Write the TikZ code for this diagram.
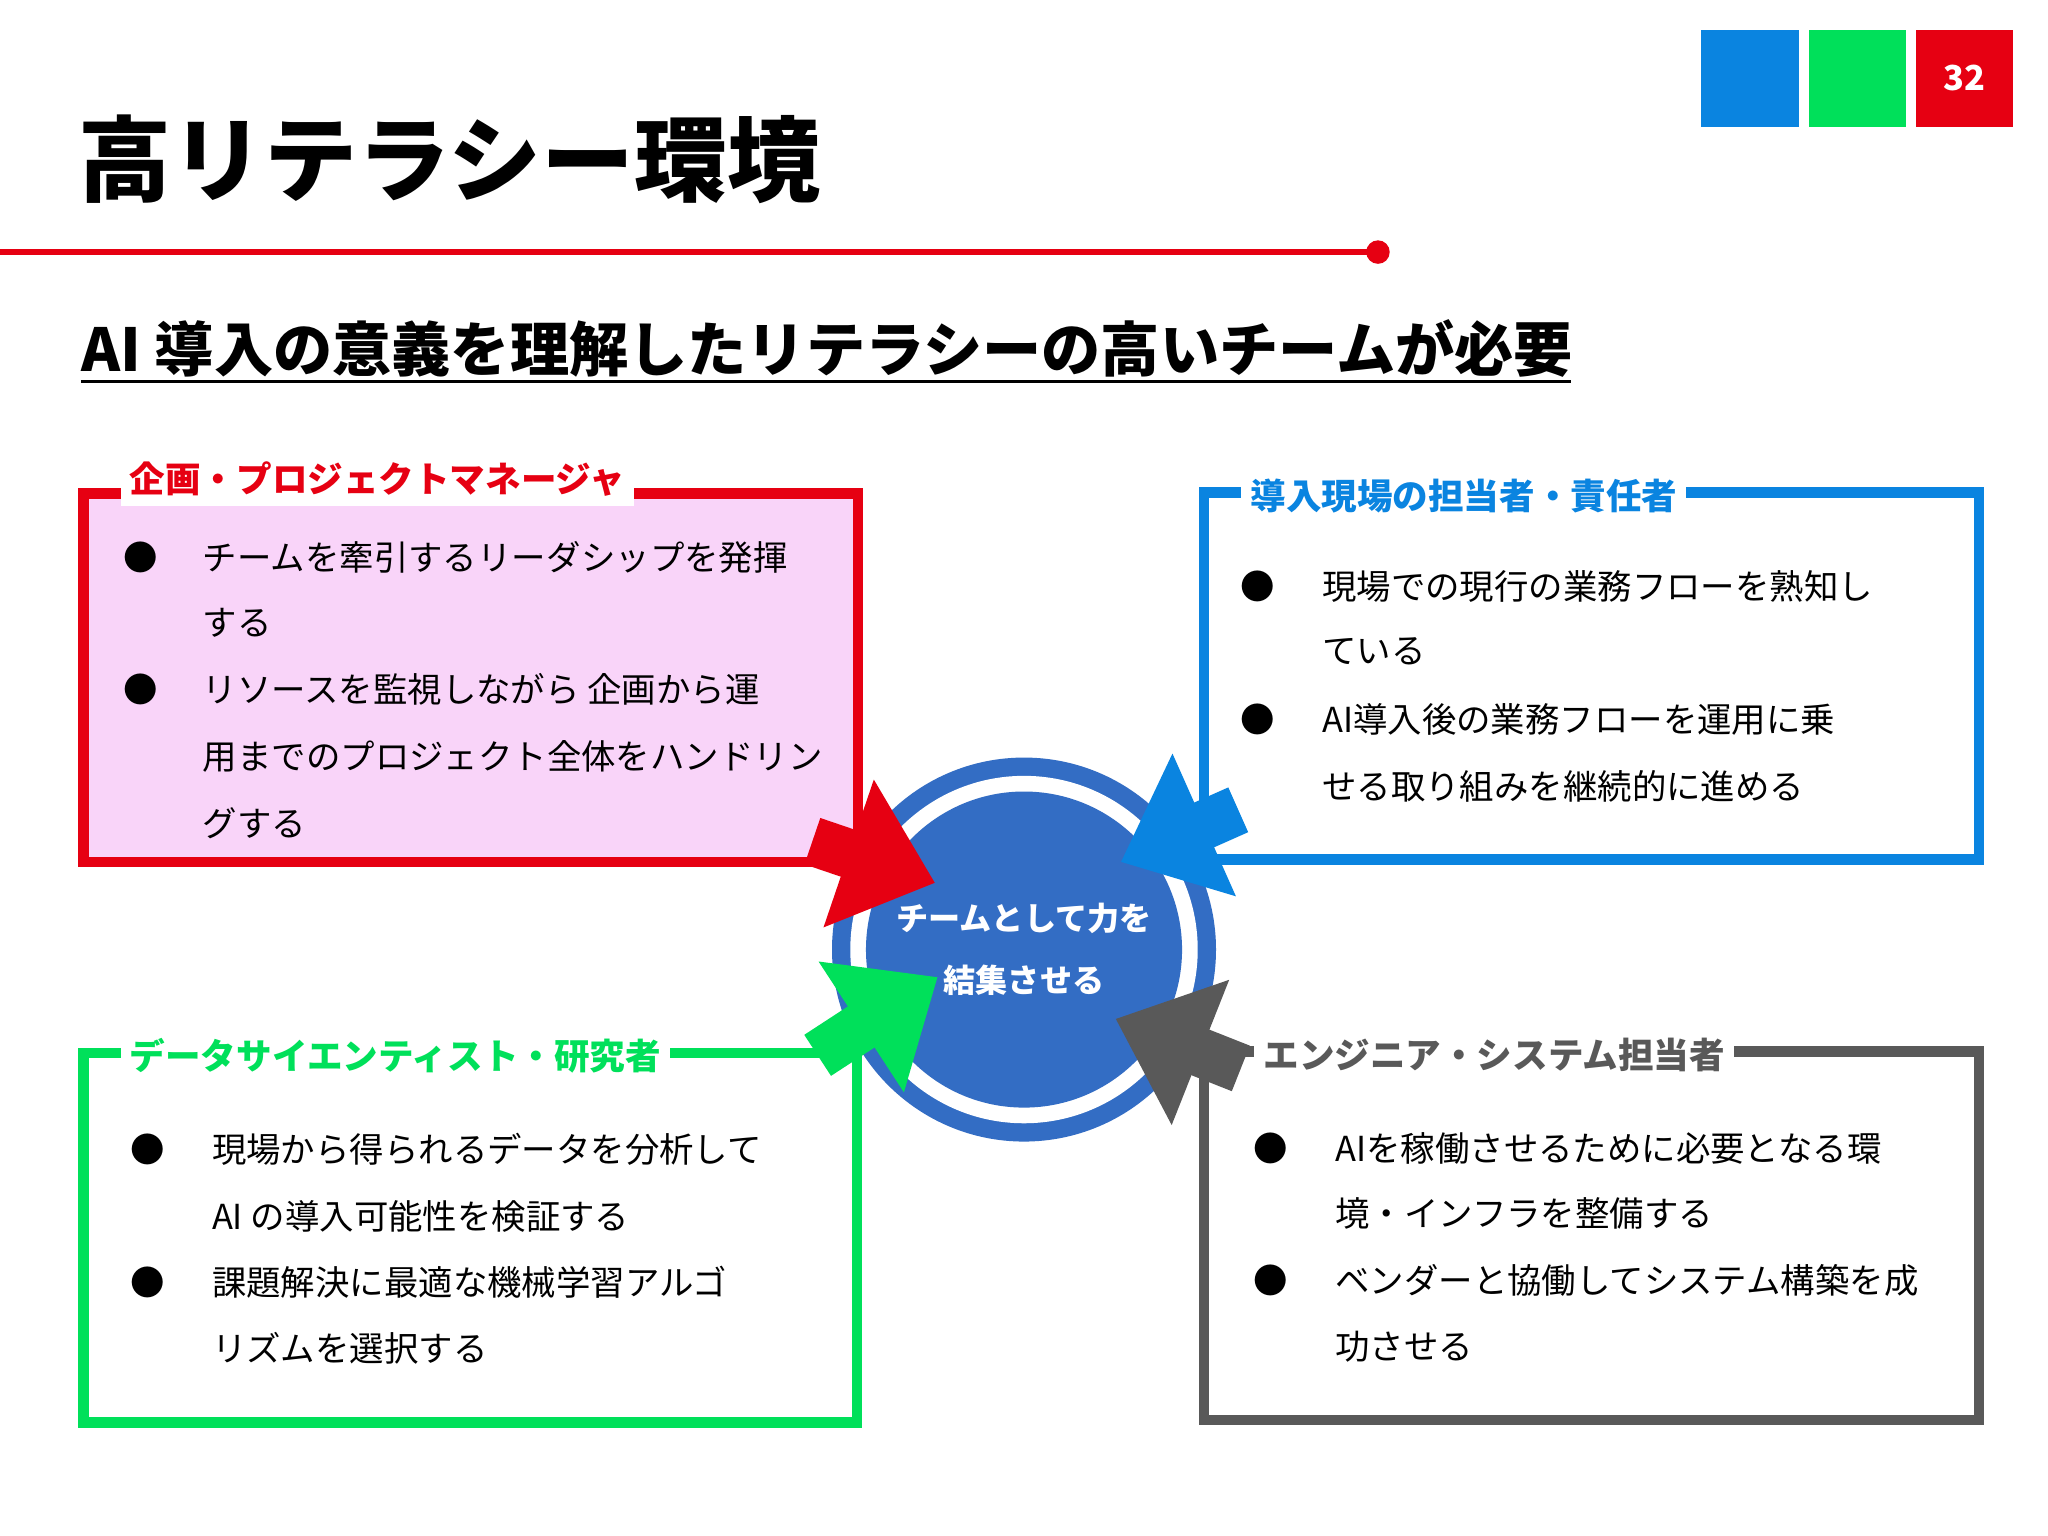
\documentclass[tikz,border=0pt]{standalone}
\usepackage{fontspec}
\setmainfont{Noto Sans CJK JP}
\usetikzlibrary{arrows.meta}
\definecolor{cred}{HTML}{E60012}
\definecolor{cblue}{HTML}{0A84E0}
\definecolor{cgreen}{HTML}{00E05A}
\definecolor{cgray}{HTML}{595959}
\definecolor{cpink}{HTML}{F9D4F9}
\definecolor{ccirc}{HTML}{336DC4}
\tikzset{
 body/.style={anchor=west,inner sep=0pt,font=\fontsize{15}{18}\selectfont},
 bul/.style={anchor=center,inner sep=0pt,font=\fontsize{15}{18}\selectfont},
 boxt/.style={anchor=west,inner sep=4pt,fill=white,font=\bfseries\fontsize{15.5}{18}\selectfont},
 frame/.style={line width=0.16cm},
 bigarrow/.style={line width=0.75cm,-{Triangle[length=1.4cm,width=2.3cm]}}
}
\begin{document}
\begin{tikzpicture}[x=0.02cm,y=-0.02cm]
\useasboundingbox (0,0) rectangle (1568,1176);
\fill[white] (0,0) rectangle (1568,1176);
% header
\node[anchor=west,inner sep=0pt,font=\bfseries\fontsize{40.5}{44}\selectfont] (title) at (60,122) {高リテラシー環境};
\coordinate (l0) at (0,193);
\coordinate (l1) at (1055,193);
\draw[cred,line width=0.1cm] (l0) -- (l1);
\fill[cred] (l1) circle (9);
\fill[cblue] (1302,23) rectangle (1377,97);
\fill[cgreen] (1385,23) rectangle (1459,97);
\node[fill=cred,minimum width=1.48cm,minimum height=1.48cm,inner sep=0pt,text=white,font=\bfseries\fontsize{15}{18}\selectfont] (pg) at (1504,60) {32};
\node[anchor=west,inner sep=0pt,font=\bfseries\fontsize{25.8}{30}\selectfont] (sub) at (62,267) {AI 導入の意義を理解したリテラシーの高いチームが必要};
\draw[line width=0.05cm] (62,292) -- (1203,292);
% boxes
\draw[frame,cred,fill=cpink] (64,378) rectangle (657,660);
\draw[frame,cblue] (922,377) rectangle (1515,658);
\draw[frame,cgreen] (64,806) rectangle (656,1089);
\draw[frame,cgray] (922,805) rectangle (1515,1087);
\node[boxt,text=cred] (t1) at (92,367) {企画・プロジェクトマネージャ};
\node[boxt,text=cblue] (t2) at (950,380) {導入現場の担当者・責任者};
\node[boxt,text=cgreen] (t3) at (92,808) {データサイエンティスト・研究者};
\node[boxt,text=cgray] (t4) at (960,808) {エンジニア・システム担当者};
% red text
\node[bul] (b11) at (108,427) {●};
\node[body] (r1) at (155,427) {チームを牽引するリーダシップを発揮};
\node[body] (r2) at (155,477) {する};
\node[bul] (b12) at (108,528) {●};
\node[body] (r3) at (155,528) {リソースを監視しながら 企画から運};
\node[body] (r4) at (155,579) {用までのプロジェクト全体をハンドリン};
\node[body] (r5) at (155,630) {グする};
% blue text
\node[bul] (b21) at (963,449) {●};
\node[body] (s1) at (1012,449) {現場での現行の業務フローを熟知し};
\node[body] (s2) at (1012,499) {ている};
\node[bul] (b22) at (963,551) {●};
\node[body] (s3) at (1012,551) {AI導入後の業務フローを運用に乗};
\node[body] (s4) at (1012,602) {せる取り組みを継続的に進める};
% green text
\node[bul] (b31) at (113,880) {●};
\node[body] (g1) at (162,880) {現場から得られるデータを分析して};
\node[body] (g2) at (162,931) {AI の導入可能性を検証する};
\node[bul] (b32) at (113,982) {●};
\node[body] (g3) at (162,982) {課題解決に最適な機械学習アルゴ};
\node[body] (g4) at (162,1032) {リズムを選択する};
% gray text
\node[bul] (b41) at (973,879) {●};
\node[body] (e1) at (1022,879) {AIを稼働させるために必要となる環};
\node[body] (e2) at (1022,929) {境・インフラを整備する};
\node[bul] (b42) at (973,980) {●};
\node[body] (e3) at (1022,980) {ベンダーと協働してシステム構築を成};
\node[body] (e4) at (1022,1031) {功させる};
% circle
\coordinate (c) at (784,727);
\fill[ccirc] (c) circle (147);
\fill[white] (c) circle (133);
\fill[ccirc] (c) circle (121);
\node[text=white,align=center,font=\bfseries\fontsize{14}{27}\selectfont] (ct) at (c) {チームとして力を\\結集させる};
% arrows
\coordinate (ra) at (622,644); \coordinate (rb) at (716,676);
\coordinate (ba) at (948,620); \coordinate (bb) at (858,660);
\coordinate (ga) at (626,808); \coordinate (gb) at (718,748);
\coordinate (ka) at (950,818); \coordinate (kb) at (854,780);
\draw[bigarrow,cred] (ra) -- (rb);
\draw[bigarrow,cblue] (ba) -- (bb);
\draw[bigarrow,cgreen] (ga) -- (gb);
\draw[bigarrow,cgray] (ka) -- (kb);
\end{tikzpicture}
\end{document}
